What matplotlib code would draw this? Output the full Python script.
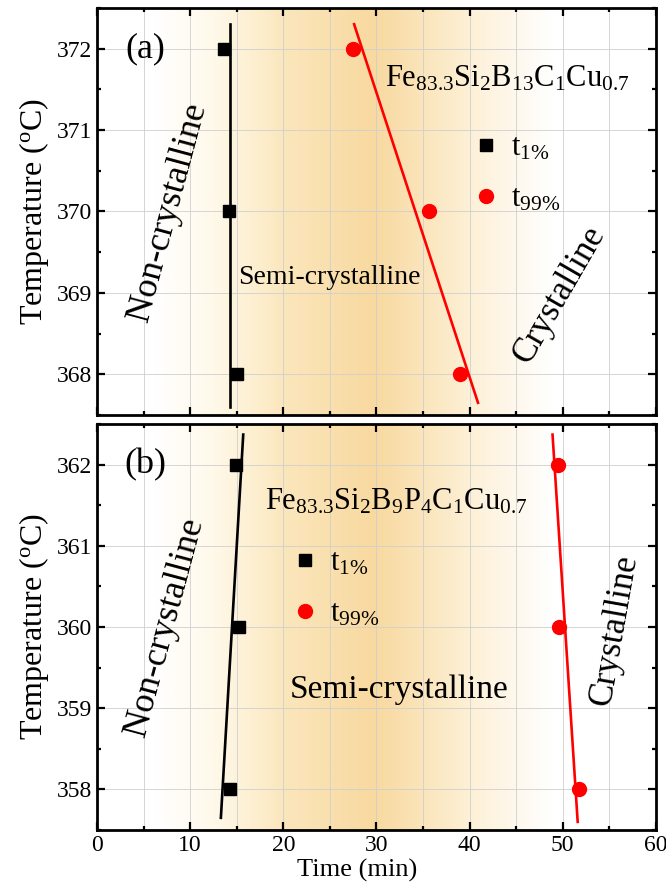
import numpy as np
import matplotlib
matplotlib.use("Agg")
import matplotlib.pyplot as plt
from matplotlib.colors import LinearSegmentedColormap
from matplotlib.ticker import MultipleLocator

plt.rcParams["font.family"] = ["Liberation Serif", "DejaVu Serif"]
plt.rcParams["mathtext.fontset"] = "custom"
plt.rcParams["mathtext.rm"] = "Liberation Serif"
plt.rcParams["mathtext.it"] = "Liberation Serif:italic"

# (a) Fe83.3Si2B13C1Cu0.7
temp_a = [372, 370, 368]
t1_a = [13.6, 14.2, 15.0]
t99_a = [27.5, 35.6, 39.0]
fit1_a_t, fit1_a_T = [14.3, 14.3], [372.3, 367.6]
fit99_a_t, fit99_a_T = [27.6, 40.9], [372.3, 367.65]

# (b) Fe83.3Si2B9P4C1Cu0.7
temp_b = [362, 360, 358]
t1_b = [14.9, 15.2, 14.3]
t99_b = [49.5, 49.6, 51.7]
fit1_b_t, fit1_b_T = [15.7, 13.3], [362.37, 357.65]
fit99_b_t, fit99_b_T = [48.9, 51.6], [362.37, 357.6]

# background shading (white -> amber -> white across the time axis)
shade_cmap = LinearSegmentedColormap.from_list(
    "shade", ["#ffffff", "#fff9ea", "#fcebc6", "#f8d9a0", "#fdf0d6", "#ffffff"])
shade_pos = [0, 6, 11, 20, 31, 40, 49, 60]
shade_val = [0, 0, 0.15, 0.45, 0.62, 0.8, 1.0, 1.0]


def panel(ax, ylo, yhi, t1, t99, temp, f1t, f1T, f99t, f99T):
    xs = np.linspace(0, 60, 600)
    v = np.interp(xs, shade_pos, shade_val)
    ax.imshow(v[np.newaxis, :], cmap=shade_cmap, vmin=0, vmax=1, aspect="auto",
              extent=[0, 60, ylo, yhi], zorder=0, interpolation="bilinear")
    ax.plot(f1t, f1T, color="black", lw=1.9, zorder=3)
    ax.plot(f99t, f99T, color="red", lw=1.9, zorder=3)
    ax.plot(t1, temp, ls="none", marker="s", ms=9, color="black", zorder=4,
            label=r"$\mathrm{t}_{1\%}$")
    ax.plot(t99, temp, ls="none", marker="o", ms=10, color="red", zorder=4,
            label=r"$\mathrm{t}_{99\%}$")
    ax.set_xlim(0, 60)
    ax.set_ylim(ylo, yhi)
    ax.xaxis.set_major_locator(MultipleLocator(10))
    ax.xaxis.set_minor_locator(MultipleLocator(5))
    ax.yaxis.set_major_locator(MultipleLocator(1))
    ax.yaxis.set_minor_locator(MultipleLocator(0.5))
    ax.grid(True, which="major", axis="y", color="#cfcfcf", lw=0.6)
    ax.grid(True, which="both", axis="x", color="#cfcfcf", lw=0.6)
    ax.tick_params(which="both", direction="in", top=True, right=True,
                   labelsize=17, width=1.6)
    ax.tick_params(which="major", length=6)
    ax.tick_params(which="minor", length=3)
    for s in ax.spines.values():
        s.set_linewidth(2)
        s.set_zorder(5)
    ax.set_ylabel(r"Temperature ($^{\mathrm{o}}$C)", fontsize=23, labelpad=4)


fig = plt.figure(figsize=(6.66, 8.94), dpi=100)
ax1 = fig.add_axes([0.1456, 0.5358, 0.8393, 0.4553])
ax2 = fig.add_axes([0.1456, 0.0716, 0.8393, 0.4541])

panel(ax1, 367.5, 372.5, t1_a, t99_a, temp_a, fit1_a_t, fit1_a_T, fit99_a_t, fit99_a_T)
panel(ax2, 357.5, 362.5, t1_b, t99_b, temp_b, fit1_b_t, fit1_b_T, fit99_b_t, fit99_b_T)
ax1.tick_params(labelbottom=False)
ax2.set_xlabel("Time (min)", fontsize=19, labelpad=2)
ax2.xaxis.label.set_x(0.465)

# labels for panel (a)
ax1.text(5.15, 372.0, "(a)", fontsize=26, ha="center", va="center")
ax1.text(30.9, 371.63, r"$\mathrm{Fe}_{83.3}\mathrm{Si}_{2}\mathrm{B}_{13}\mathrm{C}_{1}\mathrm{Cu}_{0.7}$",
         fontsize=22, ha="left", va="center")
ax1.text(15.13, 369.19, "Semi-crystalline", fontsize=20, ha="left", va="center")
ax1.text(7.6, 369.99, "Non-crystalline", fontsize=26, rotation=75,
         ha="center", va="center", rotation_mode="anchor")
ax1.text(49.7, 368.98, "Crystalline", fontsize=25, rotation=60,
         ha="center", va="center", rotation_mode="anchor")
ax1.legend(loc="center left", bbox_to_anchor=(0.669, 0.594), frameon=False,
           fontsize=22, handlelength=1.0, handletextpad=0.3, borderpad=0,
           labelspacing=0.72, borderaxespad=0)

# labels for panel (b)
ax2.text(5.15, 362.0, "(b)", fontsize=26, ha="center", va="center")
ax2.text(18.03, 361.54, r"$\mathrm{Fe}_{83.3}\mathrm{Si}_{2}\mathrm{B}_{9}\mathrm{P}_{4}\mathrm{C}_{1}\mathrm{Cu}_{0.7}$",
         fontsize=22, ha="left", va="center")
ax2.text(32.4, 359.23, "Semi-crystalline", fontsize=24, ha="center", va="center")
ax2.text(7.3, 360.0, "Non-crystalline", fontsize=26, rotation=75,
         ha="center", va="center", rotation_mode="anchor")
ax2.text(55.6, 359.97, "Crystalline", fontsize=25, rotation=80,
         ha="center", va="center", rotation_mode="anchor")
ax2.legend(loc="center left", bbox_to_anchor=(0.345, 0.594), frameon=False,
           fontsize=22, handlelength=1.0, handletextpad=0.3, borderpad=0,
           labelspacing=0.72, borderaxespad=0)

fig.savefig("out.png", dpi=100)
